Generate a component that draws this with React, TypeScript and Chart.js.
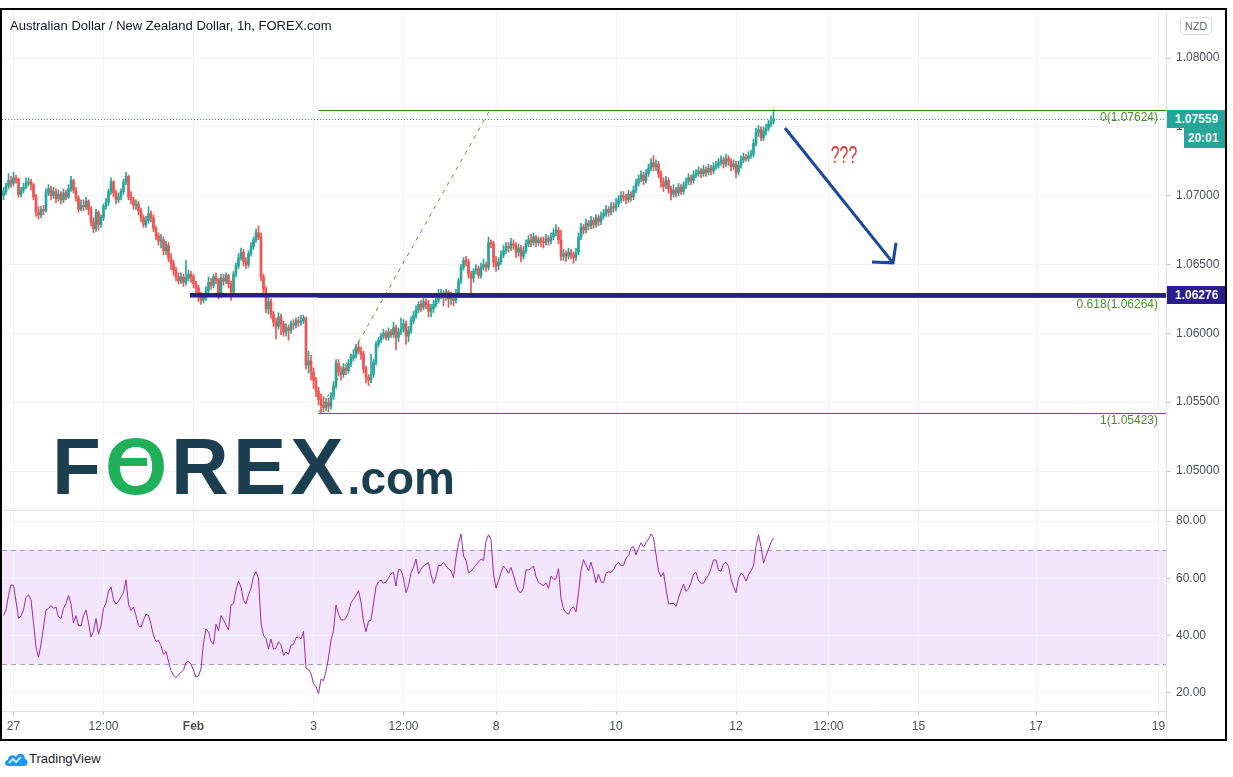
import React, { useEffect, useRef } from 'react';
import { Chart, registerables } from 'chart.js';

Chart.register(...registerables);

const FONT = "'Liberation Sans', Arial, Helvetica, sans-serif";
Chart.defaults.font.family = FONT;

// ---------------- DATA ----------------
const firstOpen = 1.07;

const closes = [
  1.0703, 1.0707, 1.0711, 1.0709, 1.0713, 1.0712, 1.0701, 1.0704, 1.0706, 1.0709,
  1.071, 1.0708, 1.0699, 1.0688, 1.0686, 1.069, 1.0689, 1.0702, 1.0705, 1.07,
  1.0703, 1.0698, 1.0701, 1.0697, 1.0702, 1.0699, 1.0705, 1.0711, 1.0704, 1.0698,
  1.069, 1.0693, 1.0692, 1.0696, 1.069, 1.0681, 1.0676, 1.0688, 1.0679, 1.0684,
  1.0692, 1.0695, 1.0703, 1.071, 1.0702, 1.0697, 1.0699, 1.0703, 1.071, 1.0714,
  1.0699, 1.0697, 1.0693, 1.0694, 1.0689, 1.0684, 1.0679, 1.0682, 1.0687, 1.0684,
  1.0676, 1.0671, 1.0667, 1.0668, 1.066, 1.0664, 1.0655, 1.0651, 1.0646, 1.0641,
  1.0638, 1.0641, 1.0637, 1.064, 1.0643, 1.0641, 1.0636, 1.0633, 1.0627, 1.0624,
  1.0626, 1.0631, 1.0637, 1.0635, 1.0641, 1.0639, 1.0628, 1.064, 1.0638, 1.0642,
  1.0636, 1.063, 1.0643, 1.0649, 1.0655, 1.0659, 1.0652, 1.065, 1.0658, 1.0663,
  1.0668, 1.0673, 1.067, 1.0641, 1.0632, 1.0618, 1.0623, 1.0614, 1.0608, 1.0605,
  1.0612, 1.0607, 1.0601, 1.0604, 1.0602, 1.0607, 1.0606, 1.0609, 1.0608, 1.0609,
  1.0611, 1.0577, 1.058, 1.0572, 1.0566, 1.0558, 1.0552, 1.0548, 1.0546, 1.055,
  1.0547, 1.0554, 1.0562, 1.0578, 1.0572, 1.057, 1.0575, 1.0573, 1.0578, 1.0582,
  1.0584, 1.059, 1.0587, 1.0585, 1.0574, 1.0568, 1.0566, 1.057, 1.0579, 1.0592,
  1.0595, 1.0598, 1.06, 1.0597, 1.0601, 1.0599, 1.0604, 1.0597, 1.0601, 1.0603,
  1.0607, 1.0598, 1.0602, 1.0609, 1.0613, 1.0617, 1.0621, 1.0619, 1.0623, 1.0621,
  1.0616, 1.0618, 1.0621, 1.0624, 1.0627, 1.0629, 1.0626, 1.063, 1.0625, 1.0627,
  1.0624, 1.0628, 1.0638, 1.0648, 1.0653, 1.0652, 1.0643, 1.064, 1.0645, 1.0647,
  1.0642, 1.0648, 1.065, 1.0648, 1.0666, 1.0665, 1.0652, 1.0649, 1.0652, 1.0657,
  1.066, 1.0663, 1.0662, 1.0665, 1.0664, 1.0659, 1.0662, 1.0656, 1.066, 1.0665,
  1.0668, 1.0666, 1.067, 1.0666, 1.0668, 1.0667, 1.0666, 1.0669, 1.0667, 1.067,
  1.0673, 1.0675, 1.0668, 1.0656, 1.0658, 1.0656, 1.0659, 1.0657, 1.0655, 1.0659,
  1.067, 1.0677, 1.0675, 1.068, 1.0678, 1.0682, 1.0679, 1.0684, 1.0681, 1.0685,
  1.0687, 1.069, 1.0688, 1.0692, 1.0691, 1.0694, 1.0697, 1.07, 1.0699, 1.0697,
  1.0701, 1.0699, 1.0704, 1.0709, 1.0712, 1.0715, 1.0711, 1.0716, 1.072, 1.0724,
  1.0721, 1.0723, 1.0716, 1.071, 1.0707, 1.0711, 1.0705, 1.0701, 1.0704, 1.0702,
  1.0706, 1.0703, 1.0707, 1.071, 1.0713, 1.0711, 1.0715, 1.0716, 1.0718, 1.0716,
  1.0719, 1.0717, 1.072, 1.0718, 1.0721, 1.0722, 1.0724, 1.0726, 1.0723, 1.0727,
  1.0725, 1.0721, 1.0723, 1.0717, 1.0722, 1.0726, 1.0728, 1.0727, 1.0729, 1.073,
  1.0738, 1.0746, 1.0748, 1.0742, 1.0747, 1.0749, 1.0752, 1.0754, 1.07559,
];

const highs = [
  1.0706, 1.0709, 1.0716, 1.0714, 1.0717, 1.0715, 1.0713, 1.0706, 1.0709, 1.0713,
  1.0713, 1.0712, 1.0709, 1.0701, 1.0692, 1.0692, 1.0693, 1.0705, 1.0708, 1.0707,
  1.0706, 1.0705, 1.0704, 1.0703, 1.0705, 1.0704, 1.0708, 1.0714, 1.0712, 1.0706,
  1.07, 1.0697, 1.0697, 1.0699, 1.0697, 1.0692, 1.0684, 1.069, 1.0689, 1.0686,
  1.0694, 1.0698, 1.0705, 1.0713, 1.0711, 1.0704, 1.0702, 1.0705, 1.0712, 1.0717,
  1.0715, 1.0703, 1.0699, 1.0697, 1.0696, 1.0691, 1.0686, 1.0685, 1.0692, 1.0689,
  1.0686, 1.0678, 1.0673, 1.0672, 1.067, 1.0667, 1.0666, 1.0658, 1.0653, 1.0648,
  1.0644, 1.0644, 1.0643, 1.0653, 1.0646, 1.0645, 1.0643, 1.0638, 1.0635, 1.063,
  1.0629, 1.0634, 1.0641, 1.064, 1.0643, 1.0644, 1.064, 1.0643, 1.0643, 1.0644,
  1.0643, 1.0638, 1.0645, 1.0651, 1.0658, 1.0662, 1.0661, 1.0655, 1.066, 1.0666,
  1.067, 1.0676, 1.0678, 1.0673, 1.0643, 1.0634, 1.0626, 1.0625, 1.0616, 1.0611,
  1.0615, 1.0614, 1.0609, 1.0607, 1.0606, 1.0609, 1.061, 1.0611, 1.0612, 1.0613,
  1.0613, 1.0612, 1.0587, 1.0584, 1.0575, 1.0568, 1.0561, 1.0556, 1.0554, 1.0553,
  1.0553, 1.0557, 1.0565, 1.0581, 1.0581, 1.0576, 1.0578, 1.0577, 1.0581, 1.0585,
  1.0588, 1.0592, 1.0594, 1.059, 1.0587, 1.0576, 1.057, 1.0585, 1.0581, 1.0594,
  1.0597, 1.06, 1.0603, 1.0602, 1.0604, 1.0603, 1.0608, 1.0606, 1.0604, 1.0611,
  1.061, 1.0609, 1.0605, 1.0612, 1.0616, 1.062, 1.0623, 1.0624, 1.0626, 1.0625,
  1.0624, 1.0621, 1.0624, 1.0629, 1.0632, 1.0632, 1.0631, 1.0632, 1.0631, 1.063,
  1.0629, 1.0632, 1.064, 1.065, 1.0655, 1.0656, 1.0654, 1.0645, 1.0647, 1.065,
  1.0649, 1.0651, 1.0654, 1.0652, 1.067, 1.0668, 1.0667, 1.0656, 1.0655, 1.066,
  1.0664, 1.0666, 1.0666, 1.0669, 1.0668, 1.0666, 1.0665, 1.0664, 1.0663, 1.0668,
  1.0671, 1.0672, 1.0673, 1.0671, 1.067, 1.067, 1.067, 1.0672, 1.0671, 1.0673,
  1.0676, 1.0679, 1.0677, 1.0675, 1.0661, 1.066, 1.0662, 1.0661, 1.0659, 1.0662,
  1.0673, 1.068, 1.0679, 1.0683, 1.0682, 1.0685, 1.0684, 1.0686, 1.0686, 1.0688,
  1.069, 1.0693, 1.0692, 1.0695, 1.0695, 1.0698, 1.07, 1.0703, 1.0703, 1.0701,
  1.0704, 1.0703, 1.0707, 1.0712, 1.0715, 1.0718, 1.0717, 1.0719, 1.0723, 1.0727,
  1.0729, 1.0726, 1.0725, 1.0718, 1.0713, 1.0714, 1.0713, 1.0707, 1.0708, 1.0706,
  1.0709, 1.0708, 1.071, 1.0713, 1.0716, 1.0715, 1.0718, 1.0719, 1.0721, 1.072,
  1.0722, 1.0721, 1.0723, 1.0722, 1.0724, 1.0725, 1.0727, 1.0729, 1.0728, 1.073,
  1.0729, 1.0727, 1.0726, 1.0725, 1.0725, 1.0729, 1.0731, 1.073, 1.0732, 1.0733,
  1.0741, 1.0749, 1.0751, 1.075, 1.075, 1.0752, 1.0755, 1.0758, 1.07624,
];

const lows = [
  1.0697, 1.0701, 1.0705, 1.0706, 1.0707, 1.0709, 1.0699, 1.0699, 1.0702, 1.0705,
  1.0707, 1.0704, 1.0697, 1.0685, 1.0683, 1.0684, 1.0686, 1.0688, 1.07, 1.0697,
  1.0698, 1.0695, 1.0696, 1.0694, 1.0695, 1.0697, 1.0698, 1.0703, 1.0702, 1.0696,
  1.0688, 1.0689, 1.0689, 1.069, 1.0686, 1.0678, 1.0673, 1.0674, 1.0675, 1.0677,
  1.0682, 1.069, 1.0693, 1.0701, 1.0699, 1.0694, 1.0695, 1.0697, 1.0701, 1.0708,
  1.0697, 1.0694, 1.069, 1.069, 1.0686, 1.0681, 1.0677, 1.0677, 1.068, 1.0681,
  1.0674, 1.0668, 1.0664, 1.0662, 1.0657, 1.0657, 1.0652, 1.0646, 1.0642, 1.0638,
  1.0636, 1.0636, 1.0634, 1.0635, 1.0638, 1.0637, 1.0633, 1.0629, 1.0623, 1.0621,
  1.0622, 1.0624, 1.0629, 1.0632, 1.0633, 1.0636, 1.0625, 1.0626, 1.0635, 1.0636,
  1.0633, 1.0624, 1.0628, 1.0641, 1.0647, 1.0653, 1.0649, 1.0647, 1.0648, 1.0656,
  1.0661, 1.0666, 1.0668, 1.0638, 1.0629, 1.0615, 1.0614, 1.0611, 1.0605, 1.0596,
  1.0603, 1.0599, 1.0598, 1.0598, 1.0595, 1.06, 1.0603, 1.0604, 1.0605, 1.0606,
  1.0607, 1.0574, 1.0571, 1.0566, 1.056, 1.0554, 1.0548, 1.0542, 1.0543, 1.0544,
  1.0543, 1.0545, 1.0552, 1.056, 1.0569, 1.0566, 1.0568, 1.057, 1.0571, 1.0576,
  1.058, 1.0582, 1.0585, 1.0581, 1.0571, 1.0564, 1.0562, 1.0564, 1.0568, 1.0577,
  1.059, 1.0593, 1.0596, 1.0595, 1.0595, 1.0597, 1.0597, 1.0588, 1.0594, 1.0599,
  1.0601, 1.0592, 1.0594, 1.06, 1.0607, 1.0611, 1.0615, 1.0616, 1.0617, 1.0618,
  1.0612, 1.0612, 1.0615, 1.0619, 1.0622, 1.0625, 1.062, 1.0624, 1.0619, 1.0621,
  1.062, 1.0622, 1.0626, 1.0636, 1.0646, 1.0649, 1.064, 1.0629, 1.0637, 1.0643,
  1.064, 1.064, 1.0646, 1.0645, 1.0646, 1.0662, 1.0648, 1.0645, 1.0646, 1.065,
  1.0655, 1.0658, 1.0659, 1.066, 1.0661, 1.0655, 1.0656, 1.0652, 1.0654, 1.0658,
  1.0663, 1.0663, 1.0664, 1.0663, 1.0664, 1.0663, 1.0662, 1.0664, 1.0664, 1.0665,
  1.0668, 1.0671, 1.0665, 1.0653, 1.0653, 1.0652, 1.0654, 1.0654, 1.0651, 1.0653,
  1.0657, 1.0668, 1.0672, 1.0673, 1.0675, 1.0676, 1.0676, 1.0677, 1.0678, 1.0679,
  1.0683, 1.0685, 1.0685, 1.0686, 1.0688, 1.0689, 1.0692, 1.0695, 1.0696, 1.0694,
  1.0695, 1.0696, 1.0697, 1.0702, 1.0707, 1.071, 1.0708, 1.0709, 1.0714, 1.0718,
  1.0718, 1.0718, 1.0713, 1.0706, 1.0703, 1.0705, 1.0702, 1.0697, 1.0699, 1.0699,
  1.07, 1.0701, 1.0701, 1.0705, 1.0708, 1.0708, 1.0709, 1.0713, 1.0714, 1.0713,
  1.0714, 1.0714, 1.0715, 1.0715, 1.0716, 1.0719, 1.072, 1.0722, 1.072, 1.0721,
  1.0722, 1.0718, 1.0719, 1.0713, 1.0715, 1.072, 1.0724, 1.0725, 1.0725, 1.0727,
  1.0728, 1.0736, 1.0743, 1.074, 1.074, 1.0744, 1.0747, 1.075, 1.0752,
];

const rsiValues = [
  47, 49, 54, 57.7, 57.5, 52, 46, 46.8, 49, 53.4,
  54.2, 52.5, 44.5, 36, 32.5, 37, 43, 49, 49.5, 50.5,
  49.5, 50, 46.5, 46, 49.5, 51.2, 54, 51, 44.5, 47,
  43.5, 43.5, 47, 49, 44.5, 39.5, 41.5, 46, 40.5, 43.5,
  49.5, 51.3, 55.5, 57, 52.5, 51, 52, 53.6, 55, 59.5,
  51, 48.8, 50, 47, 43.5, 43, 45.5, 47.5, 47, 44,
  40, 38, 38.3, 36.5, 33.5, 34.5, 31, 27.8, 26.2, 25.3,
  26.4, 27.2, 28, 30.7, 31, 30, 28, 25.5, 26, 28.5,
  37.5, 42.3, 41.3, 38, 37, 44, 41.8, 47, 45.5, 43.7,
  42, 50.7, 51.2, 56, 59, 57, 52.3, 51, 54.3, 56.5,
  60.7, 62.3, 60, 44.5, 40.1, 39, 35.3, 38.8, 35.3, 35.6,
  37.9, 36.8, 33.1, 34.3, 33.5, 36.7, 36.9, 39.3, 39.5, 38.9,
  41.5, 28.6, 28.3, 26.8, 23.3, 22.2, 19.8, 24.8, 24.3, 27.7,
  32.3, 38.4, 41.9, 50.7, 47.5, 45.5, 45.5, 46.2, 48.1, 51.5,
  52.7, 54, 55.7, 51.8, 45, 41.4, 45, 45.4, 51.3, 57.1,
  58.8, 59.4, 58.3, 58.7, 60.1, 61.6, 62.1, 57.3, 63.1, 62.9,
  60, 55, 57.5, 61.8, 63.9, 66.7, 61.6, 63.2, 64.4, 64.9,
  65.5, 61.3, 58.2, 60.6, 64.6, 64.4, 65.6, 64.3, 63.3, 62.6,
  60.2, 67.2, 72.1, 75.5, 67.8, 66.4, 62, 62.4, 63.6, 64.6,
  65.7, 66.7, 66.2, 73, 75.2, 73.5, 61.5, 56.6, 59.2, 62,
  64.3, 63.3, 61.8, 63.8, 61, 57.8, 55.5, 55, 56.7, 63,
  62.9, 63.4, 64.3, 60.6, 58.6, 58, 57.4, 58.4, 56.5, 60.8,
  59.7, 59.8, 63.4, 53, 49.4, 48, 47.5, 49.4, 50.1, 48.3,
  55, 62.8, 66.5, 64.5, 62.7, 65.6, 62.4, 58.5, 61.5, 58.8,
  58.5, 61.7, 62.3, 62, 63, 64.7, 65.6, 64.4, 64.6, 67,
  67.8, 70.6, 71.1, 68.2, 70.4, 72.4, 70.9, 72.4, 73.6, 75.5,
  74.2, 68.3, 62.6, 60.6, 62, 56.4, 51.1, 51.2, 51.3, 50.2,
  53.1, 55.7, 58, 55.5, 56.3, 58.4, 61.5, 62.1, 59.1, 58.3,
  58.3, 59.9, 61, 63.5, 66.4, 66.4, 62.8, 62.5, 65, 65.6,
  64.2, 59.8, 57.1, 55, 60, 61.8, 61, 59, 61.2, 62.6,
  64.4, 71, 75.2, 71, 65.3, 67.9, 70.2, 72.6, 74,
];

// x-axis ticks (bar index) and labels
const tickIndices = [4, 40, 76, 124, 160, 197, 245, 293, 330, 366, 413, 462];
const tickLabels = ['27', '12:00', 'Feb', '3', '12:00', '8', '10', '12', '12:00', '15', '17', '19'];

const priceTicks = [1.05, 1.055, 1.06, 1.065, 1.07, 1.075, 1.08];
const rsiTicks = [20, 40, 60, 80];
const rsiUpper = 70;
const rsiLower = 30;

const lastPrice = 1.07559;
const countdown = '20:01';
const supportLevel = 1.06276;
const fibLevels = [
  { ratio: '0', price: 1.07624 },
  { ratio: '0.618', price: 1.06264 },
  { ratio: '1', price: 1.05423 },
];
const fibStartIndex = 126;
const trendEndIndex = 194.6;
const supportStartIndex = 74.6;
const arrowStart = { x: 312.6, y: 1.07492 };
const arrowTip = { x: 355.8, y: 1.06512 };
const arrowHeadA = { x: 357, y: 1.06657 };
const arrowHeadB = { x: 347.4, y: 1.06519 };
const questionMark = { x: 336.2, y: 1.07288, text: '???' };

// ---------------- STYLE ----------------
const UP = '#26a69a';
const DOWN = '#ef5350';
const GRID = '#f0f2f5';
const AXIS_TEXT = '#4c4f58';
const X_MIN = -0.6;
const X_MAX = 465;
const PRICE_MIN = 1.047168;
const PRICE_MAX = 1.083487;
const RSI_MIN = 13.72;
const RSI_MAX = 83.49;

const priceOverlay = {
  id: 'priceOverlay',
  afterDatasetsDraw(chart: any) {
    const { ctx, chartArea: a, scales } = chart;
    const x = scales.x;
    const y = scales.y;
    ctx.save();
    ctx.beginPath();
    ctx.rect(a.left, a.top, a.right - a.left, a.bottom - a.top);
    ctx.clip();

    // last price dotted line
    const yl = Math.round(y.getPixelForValue(lastPrice)) + 0.5;
    ctx.strokeStyle = UP;
    ctx.lineWidth = 1;
    ctx.setLineDash([1, 2]);
    ctx.beginPath();
    ctx.moveTo(a.left, yl);
    ctx.lineTo(a.right, yl);
    ctx.stroke();
    ctx.setLineDash([]);

    // fib lines
    const fx = x.getPixelForValue(fibStartIndex);
    ctx.strokeStyle = '#3a7d1c';
    ctx.lineWidth = 1;
    fibLevels.forEach((f) => {
      const py = Math.round(y.getPixelForValue(f.price)) + 0.5;
      ctx.beginPath();
      ctx.moveTo(fx, py);
      ctx.lineTo(a.right, py);
      ctx.stroke();
    });

    // fib trend line (dashed)
    ctx.strokeStyle = '#5f9440';
    ctx.setLineDash([4, 5]);
    ctx.beginPath();
    ctx.moveTo(fx, y.getPixelForValue(fibLevels[2].price));
    ctx.lineTo(x.getPixelForValue(trendEndIndex), y.getPixelForValue(fibLevels[0].price));
    ctx.stroke();
    ctx.setLineDash([]);

    // support line
    const sy = y.getPixelForValue(supportLevel);
    ctx.strokeStyle = '#2b1d8e';
    ctx.lineWidth = 4.5;
    ctx.beginPath();
    ctx.moveTo(x.getPixelForValue(supportStartIndex), sy);
    ctx.lineTo(a.right, sy);
    ctx.stroke();

    // fib labels
    ctx.fillStyle = '#4f8a2e';
    ctx.font = `12px ${FONT}`;
    ctx.textAlign = 'right';
    ctx.textBaseline = 'top';
    fibLevels.forEach((f) => {
      const py = y.getPixelForValue(f.price);
      ctx.fillText(`${f.ratio}(${f.price.toFixed(5)})`, a.right - 8, py + 2);
    });

    // arrow
    ctx.strokeStyle = '#1747a0';
    ctx.lineWidth = 3;
    ctx.lineCap = 'butt';
    ctx.lineJoin = 'miter';
    const tx = x.getPixelForValue(arrowTip.x);
    const ty = y.getPixelForValue(arrowTip.y);
    ctx.beginPath();
    ctx.moveTo(x.getPixelForValue(arrowStart.x), y.getPixelForValue(arrowStart.y));
    ctx.lineTo(tx, ty);
    ctx.stroke();
    ctx.beginPath();
    ctx.moveTo(x.getPixelForValue(arrowHeadA.x), y.getPixelForValue(arrowHeadA.y));
    ctx.lineTo(tx, ty);
    ctx.lineTo(x.getPixelForValue(arrowHeadB.x), y.getPixelForValue(arrowHeadB.y));
    ctx.stroke();

    // ???
    ctx.save();
    ctx.translate(x.getPixelForValue(questionMark.x), y.getPixelForValue(questionMark.y));
    ctx.scale(0.66, 1);
    ctx.fillStyle = '#e2352d';
    ctx.font = `24px ${FONT}`;
    ctx.textAlign = 'center';
    ctx.textBaseline = 'middle';
    ctx.fillText(questionMark.text, 0, 0);
    ctx.restore();

    ctx.restore();
  },
  afterDraw(chart: any) {
    const { ctx, chartArea: a, scales } = chart;
    const y = scales.y;
    const W = chart.width;
    ctx.save();
    ctx.font = `bold 12px ${FONT}`;
    ctx.textAlign = 'left';
    ctx.textBaseline = 'middle';
    // last price tag
    const py = Math.round(y.getPixelForValue(lastPrice));
    ctx.fillStyle = UP;
    ctx.fillRect(a.right, py - 9, W - a.right, 18);
    ctx.fillStyle = '#ffffff';
    ctx.fillText(lastPrice.toFixed(5), a.right + 9, py + 0.5);
    // countdown tag
    ctx.fillStyle = UP;
    ctx.fillRect(a.right + 18, py + 9, W - a.right - 18, 20);
    ctx.fillStyle = '#ffffff';
    ctx.fillText(countdown, a.right + 22, py + 19.5);
    // support tag
    const sy = Math.round(y.getPixelForValue(supportLevel));
    ctx.fillStyle = '#2b1d8e';
    ctx.fillRect(a.right, sy - 9, W - a.right, 18);
    ctx.fillStyle = '#ffffff';
    ctx.fillText(supportLevel.toFixed(5), a.right + 9, sy + 0.5);
    ctx.restore();
  },
};

const rsiBand = {
  id: 'rsiBand',
  beforeDraw(chart: any) {
    const { ctx, chartArea: a, scales } = chart;
    const y = scales.y;
    const y70 = y.getPixelForValue(rsiUpper);
    const y30 = y.getPixelForValue(rsiLower);
    ctx.save();
    ctx.fillStyle = '#f3e6fc';
    ctx.fillRect(a.left, y70, a.right - a.left, y30 - y70);
    ctx.restore();
  },
  beforeDatasetsDraw(chart: any) {
    const { ctx, chartArea: a, scales } = chart;
    const y = scales.y;
    ctx.save();
    ctx.strokeStyle = '#ab9bbb';
    ctx.lineWidth = 1;
    ctx.setLineDash([5, 4]);
    [rsiUpper, rsiLower].forEach((v) => {
      const py = Math.round(y.getPixelForValue(v)) + 0.5;
      ctx.beginPath();
      ctx.moveTo(a.left, py);
      ctx.lineTo(a.right, py);
      ctx.stroke();
    });
    ctx.restore();
  },
};

export default function App() {
  const priceRef = useRef<HTMLCanvasElement>(null);
  const rsiRef = useRef<HTMLCanvasElement>(null);

  useEffect(() => {
    const opens = closes.map((c, i) => (i === 0 ? firstOpen : closes[i - 1]));
    const colors = closes.map((c, i) => (c >= opens[i] ? UP : DOWN));

    const xTicksHook = (s: any) => {
      s.ticks = tickIndices.map((v) => ({ value: v }));
    };

    const priceChart = new Chart(priceRef.current as HTMLCanvasElement, {
      type: 'bar',
      data: {
        datasets: [
          {
            label: 'wicks',
            data: closes.map((c, i) => ({ x: i, y: [lows[i], highs[i]] })) as any,
            backgroundColor: colors,
            barThickness: 1,
            grouped: false,
            order: 2,
          } as any,
          {
            label: 'bodies',
            data: closes.map((c, i) => ({ x: i, y: [opens[i], c] })) as any,
            backgroundColor: colors,
            barThickness: 2,
            minBarLength: 1,
            grouped: false,
            order: 1,
          } as any,
        ],
      },
      options: {
        responsive: false,
        maintainAspectRatio: false,
        animation: false,
        devicePixelRatio: 1,
        events: [],
        layout: { padding: 0 },
        plugins: { legend: { display: false }, tooltip: { enabled: false } },
        scales: {
          x: {
            type: 'linear',
            min: X_MIN,
            max: X_MAX,
            offset: false,
            afterBuildTicks: xTicksHook,
            ticks: { display: false },
            grid: { color: GRID, drawTicks: false, offset: false },
            border: { display: false },
            afterFit: (s: any) => {
              s.height = 0;
              s.paddingLeft = 0;
              s.paddingRight = 0;
            },
          },
          y: {
            type: 'linear',
            position: 'right',
            min: PRICE_MIN,
            max: PRICE_MAX,
            beginAtZero: false,
            afterBuildTicks: (s: any) => {
              s.ticks = priceTicks.map((v) => ({ value: v }));
            },
            ticks: {
              callback: (v: any) => Number(v).toFixed(5),
              color: AXIS_TEXT,
              font: { family: FONT, size: 12 },
              padding: 6,
            },
            grid: { color: GRID, tickLength: 4, tickColor: '#b8bbc4' },
            border: { display: false },
            afterFit: (s: any) => {
              s.width = 59;
              s.paddingTop = 0;
              s.paddingBottom = 0;
            },
          },
        },
      } as any,
      plugins: [priceOverlay],
    });

    const rsiChart = new Chart(rsiRef.current as HTMLCanvasElement, {
      type: 'line',
      data: {
        datasets: [
          {
            label: 'RSI',
            data: rsiValues.map((v, i) => ({ x: i, y: v })) as any,
            borderColor: '#9c27b0',
            borderWidth: 1,
            pointRadius: 0,
            tension: 0,
            fill: false,
          },
        ],
      },
      options: {
        responsive: false,
        maintainAspectRatio: false,
        animation: false,
        devicePixelRatio: 1,
        events: [],
        layout: { padding: 0 },
        plugins: { legend: { display: false }, tooltip: { enabled: false } },
        scales: {
          x: {
            type: 'linear',
            min: X_MIN,
            max: X_MAX,
            offset: false,
            afterBuildTicks: xTicksHook,
            ticks: {
              callback: (v: any, i: number) => tickLabels[i],
              color: AXIS_TEXT,
              font: (ctx: any) => ({
                family: FONT,
                size: 12,
                weight: tickLabels[ctx.index] === 'Feb' ? 'bold' : 'normal',
              }),
              padding: 4,
              autoSkip: false,
              maxRotation: 0,
            },
            grid: { color: GRID, tickLength: 4, tickColor: '#c4c7cf', offset: false },
            border: { display: true, color: '#dfe1e6' },
            afterFit: (s: any) => {
              s.height = 28;
              s.paddingLeft = 0;
              s.paddingRight = 0;
            },
          },
          y: {
            type: 'linear',
            position: 'right',
            min: RSI_MIN,
            max: RSI_MAX,
            afterBuildTicks: (s: any) => {
              s.ticks = rsiTicks.map((v) => ({ value: v }));
            },
            ticks: {
              callback: (v: any) => Number(v).toFixed(2),
              color: AXIS_TEXT,
              font: { family: FONT, size: 12 },
              padding: 6,
            },
            grid: { color: GRID, tickLength: 4, tickColor: '#b8bbc4' },
            border: { display: false },
            afterFit: (s: any) => {
              s.width = 59;
              s.paddingTop = 0;
              s.paddingBottom = 0;
            },
          },
        },
      } as any,
      plugins: [rsiBand],
    });

    return () => {
      priceChart.destroy();
      rsiChart.destroy();
    };
  }, []);

  return (
    <div
      style={{
        position: 'absolute',
        left: 0,
        top: 0,
        width: 1233,
        height: 777,
        background: '#ffffff',
        overflow: 'hidden',
        fontFamily: FONT,
      }}
    >
      <canvas
        ref={priceRef}
        width={1223}
        height={500}
        style={{ position: 'absolute', left: 2, top: 10, width: 1223, height: 500 }}
      />
      <canvas
        ref={rsiRef}
        width={1223}
        height={228}
        style={{ position: 'absolute', left: 2, top: 511, width: 1223, height: 228 }}
      />
      {/* pane separators */}
      <div style={{ position: 'absolute', left: 2, top: 510, width: 1223, height: 1, background: '#dfe1e6' }} />
      <div style={{ position: 'absolute', left: 1166, top: 10, width: 1, height: 729, background: '#dfe1e6' }} />
      {/* frame */}
      <div
        style={{
          position: 'absolute',
          left: 0,
          top: 8,
          width: 1227,
          height: 733,
          border: '2px solid #000',
          boxSizing: 'border-box',
          pointerEvents: 'none',
        }}
      />
      {/* title */}
      <div
        style={{
          position: 'absolute',
          left: 10,
          top: 18,
          fontSize: 13,
          lineHeight: '16px',
          color: '#131722',
          whiteSpace: 'nowrap',
        }}
      >
        Australian Dollar / New Zealand Dollar, 1h, FOREX.com
      </div>
      {/* currency box */}
      <div
        style={{
          position: 'absolute',
          left: 1180,
          top: 17,
          width: 32,
          height: 18,
          border: '1px solid #d6d8de',
          borderRadius: 4,
          boxSizing: 'border-box',
          fontSize: 11,
          lineHeight: '16px',
          textAlign: 'center',
          color: '#6a6d78',
          background: '#fff',
        }}
      >
        NZD
      </div>
      {/* FOREX.com logo */}
      <div
        style={{
          position: 'absolute',
          left: 52,
          top: 427,
          fontSize: 80,
          fontWeight: 'bold',
          lineHeight: '80px',
          color: '#1b3e50',
          whiteSpace: 'nowrap',
          letterSpacing: 4,
        }}
      >
        F
        <span style={{ color: '#21b05a', position: 'relative' }}>
          O
          <span
            style={{
              position: 'absolute',
              left: 6,
              top: 36,
              width: 36,
              height: 8,
              background: '#21b05a',
            }}
          />
        </span>
        REX
        <span style={{ fontSize: 46, letterSpacing: 0 }}>.com</span>
      </div>
      {/* TradingView footer */}
      <svg
        width={24}
        height={16}
        viewBox="0 0 24 16"
        style={{ position: 'absolute', left: 4, top: 751 }}
      >
        <path
          d="M4 15 C0 15 0 9 4 9 C4 4 10 3 12 6 C14 1 21 2 21 8 C24 8 25 15 20 15 Z"
          fill="#2196f3"
        />
        <polyline points="5,12 9,8 12,11 17,6" stroke="#ffffff" strokeWidth={1.6} fill="none" />
      </svg>
      <div
        style={{
          position: 'absolute',
          left: 29,
          top: 751,
          fontSize: 13,
          lineHeight: '15px',
          color: '#1e222d',
        }}
      >
        TradingView
      </div>
    </div>
  );
}
